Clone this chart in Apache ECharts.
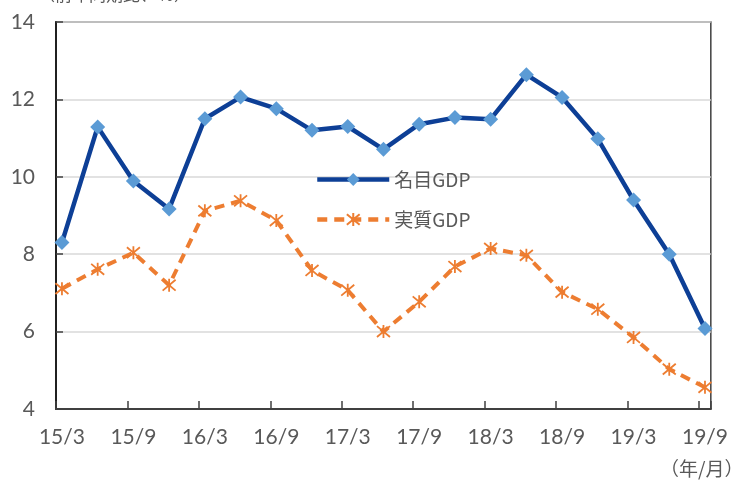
<!DOCTYPE html>
<html><head><meta charset="utf-8">
<script src="https://cdn.jsdelivr.net/npm/echarts@6/dist/echarts.min.js"></script>
<style>html,body{margin:0;padding:0;background:#fff}#c{width:731px;height:482px}</style>
</head><body><div id="c"></div>
<script>
var categories = ['15/3','15/6','15/9','15/12','16/3','16/6','16/9','16/12','17/3','17/6','17/9','17/12','18/3','18/6','18/9','18/12','19/3','19/6','19/9'];
var nominalGDP = [8.3,11.29,9.89,9.17,11.5,12.06,11.76,11.2,11.3,10.71,11.36,11.53,11.49,12.64,12.05,10.98,9.4,8.0,6.08];
var realGDP = [7.11,7.61,8.04,7.2,9.12,9.38,8.87,7.58,7.07,6.0,6.77,7.68,8.15,7.97,7.02,6.58,5.85,5.03,4.56];
var yTicks = [4,6,8,10,12,14];
var seriesNames = ['名目GDP','実質GDP'];

var offset = 1/6;
function pts(arr){ return arr.map(function(v,i){ return [i+offset, v]; }); }
var labelPos = [];
for (var i = 0; i < categories.length; i += 2) labelPos.push(i + offset);

var numFont = 'Lato, "Noto Sans", sans-serif';
var jpFont = '"Noto Sans CJK JP", sans-serif';
var chart = echarts.init(document.getElementById('c'), null, {renderer:'canvas'});
chart.setOption({
  animation:false,
  backgroundColor:'#fff',
  grid:{left:56,right:18,top:22,bottom:73,show:true,borderColor:'#404040',borderWidth:1.5,backgroundColor:'transparent'},
  xAxis:{type:'value',min:0,max:18.33,interval:2,
    axisLine:{show:true,lineStyle:{color:'#404040',width:2}},
    axisTick:{show:true,inside:true,length:8,lineStyle:{color:'#404040',width:1.5}},
    splitLine:{show:false},
    axisLabel:{customValues:labelPos,margin:18,fontSize:21,color:'#595959',fontFamily:numFont,
      formatter:function(v){return categories[Math.round(v - offset)];}}
  },
  yAxis:{type:'value',min:yTicks[0],max:yTicks[yTicks.length-1],interval:2,
    axisLine:{show:true,lineStyle:{color:'#202020',width:2}},
    axisTick:{show:true,inside:true,length:7,lineStyle:{color:'#404040',width:1.5}},
    splitLine:{show:true,lineStyle:{color:'#D9D9D9',width:1.5}},
    axisLabel:{margin:21,fontSize:21,color:'#595959',fontFamily:numFont}
  },
  legend:{orient:'vertical',left:310,top:165,itemWidth:72,itemHeight:16,itemGap:21,
    lineStyle:{width:4.5},
    textStyle:{fontSize:19,color:'#595959',fontFamily:jpFont},
    data:seriesNames},
  graphic:[
    {type:'text',left:38,top:-14,style:{text:'（前年同期比、％）',font:'17px "Noto Sans CJK JP"',fill:'#595959'}},
    {type:'text',left:660,top:459,style:{text:'（年/月）',font:'19px "Noto Sans CJK JP"',fill:'#595959'}}
  ],
  series:[
    {name:seriesNames[0],type:'line',data:pts(nominalGDP),symbol:'diamond',symbolSize:15,
      lineStyle:{color:'#0D3F96',width:4.5},itemStyle:{color:'#5B9BD5'},z:3},
    {name:seriesNames[1],type:'line',data:pts(realGDP),
      symbol:'path://M0 0 L20 20 M20 0 L0 20 M10 -2 L10 22',symbolSize:13,
      lineStyle:{color:'#ED7D31',width:4,type:[10,7]},
      itemStyle:{color:'#ED7D31',borderColor:'#ED7D31',borderWidth:1.8},z:2}
  ]
});
</script></body></html>
